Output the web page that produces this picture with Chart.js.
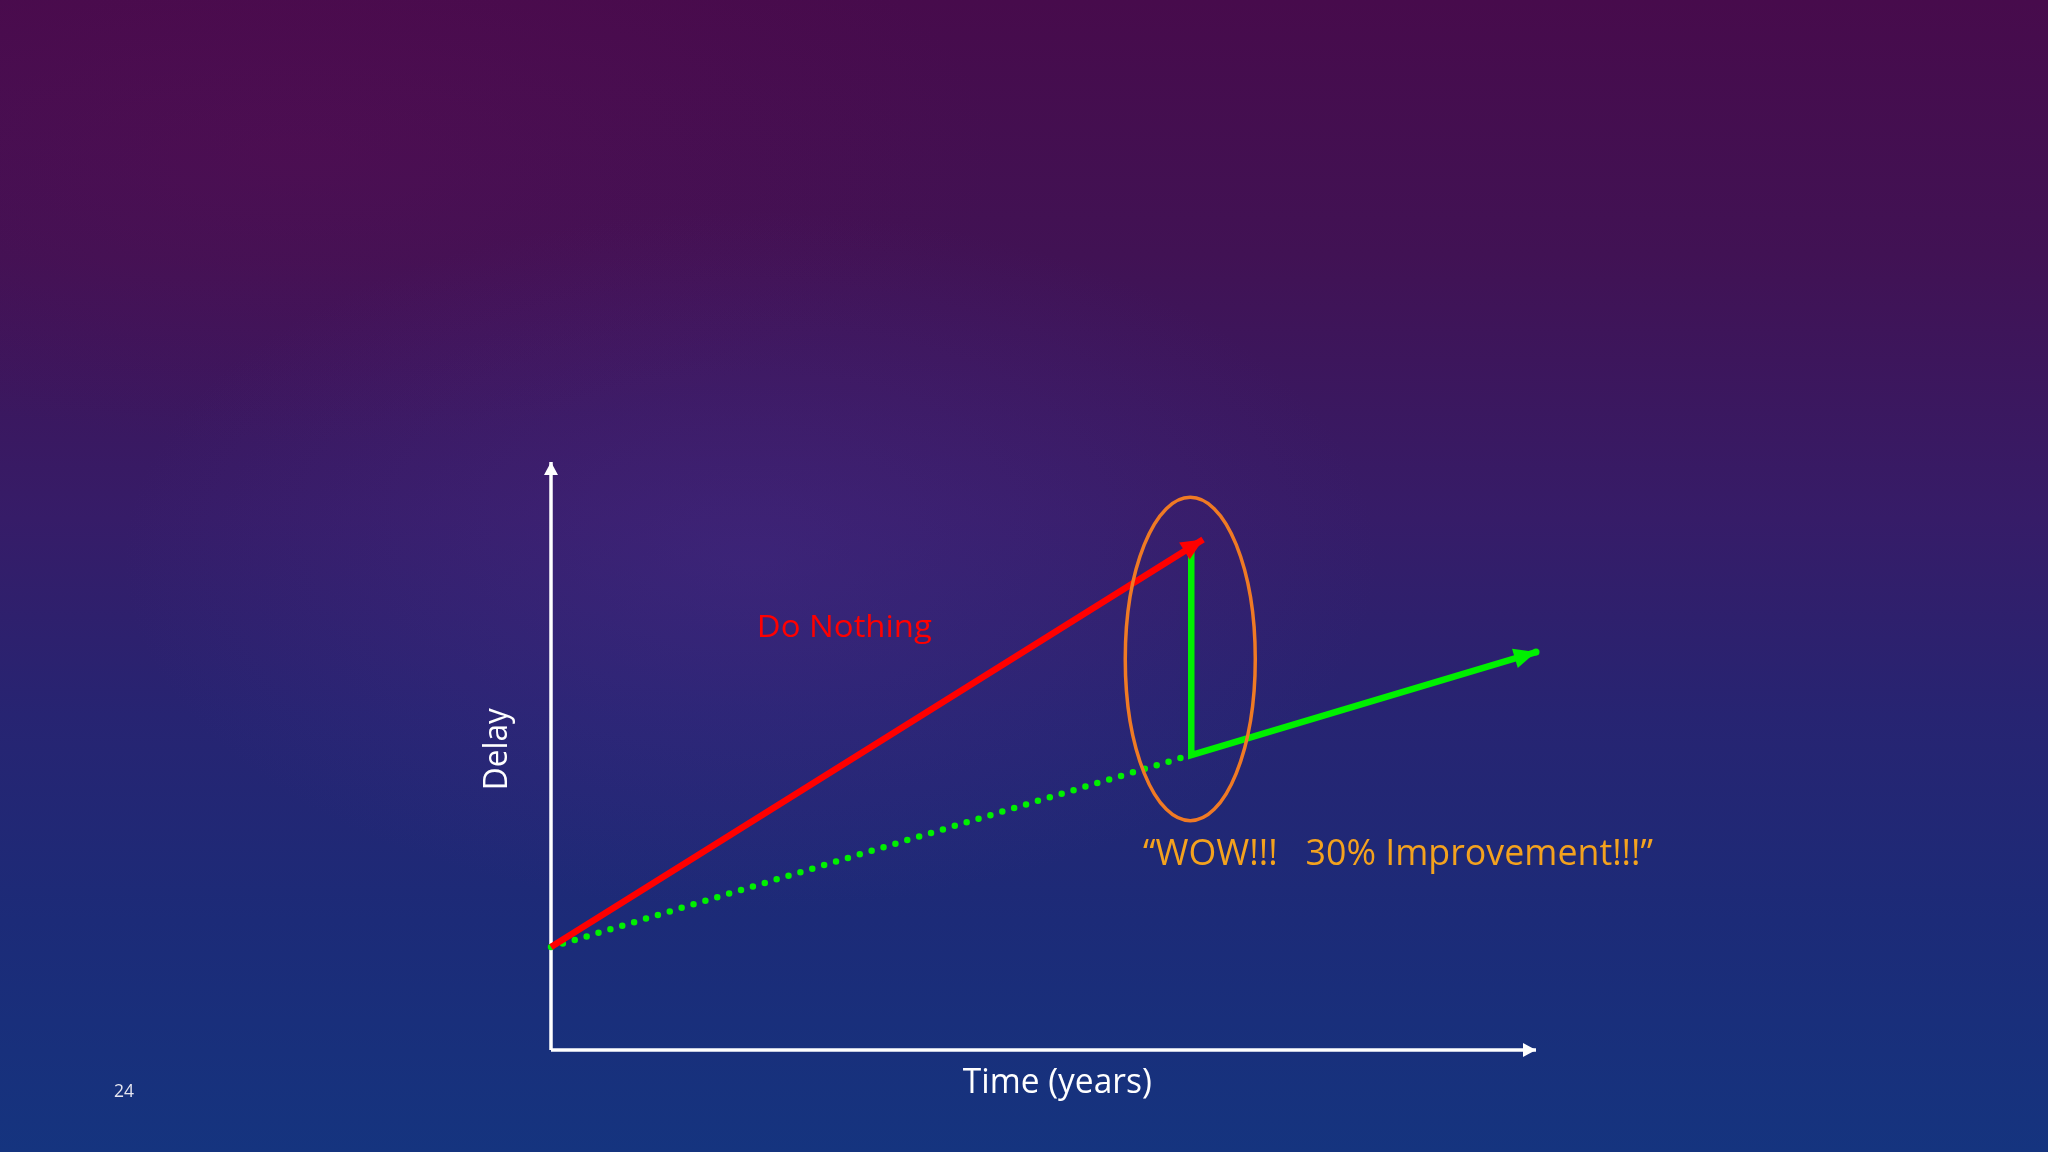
<!DOCTYPE html>
<html>
<head>
<meta charset="utf-8">
<title>Do Nothing vs Improvement</title>
<script src="https://cdn.jsdelivr.net/npm/chart.js@4.4.1/dist/chart.umd.min.js"></script>
<style>
  html, body { margin:0; padding:0; }
  body {
    width:2048px; height:1152px; overflow:hidden;
    background:
      radial-gradient(ellipse 900px 500px at 750px 560px, rgba(80,50,150,0.30), rgba(80,50,150,0) 70%),
      radial-gradient(ellipse 1000px 420px at 300px 150px, rgba(95,12,85,0.30), rgba(95,12,85,0) 70%),
      linear-gradient(180deg, #470b4c 0%, #411254 22%, #361c68 45%, #272472 62%, #1c2b78 80%, #15347f 100%);
  }
  #wrap { position:absolute; left:0; top:0; width:2048px; height:1152px; }
</style>
</head>
<body>
<div id="wrap"><canvas id="delayChart" width="2048" height="1152"></canvas></div>
<script>
/* data, in (years, delay) units */
const axisX = [0, 10];        // time axis, years
const axisY = [0, 6];         // delay axis
const doNothingX = [0, 6.62];
const doNothingY = [1.05, 5.21];
const trendX = [0, 6.46];
const trendY = [1.05, 3.0];
const improvedX = [6.5, 6.5, 10];
const improvedY = [5.12, 3.01, 4.06];

const RED = "#ff0000";
const GREEN = "#00f000";
const ORANGE = "#f07a24";
const WOW = "#f4a21e";

function pts(xs, ys){ return xs.map((x,i)=>({x:x, y:ys[i]})); }

/* text stretched to a given width (the slide font is narrower/wider) */
function fitText(ctx, text, x, y, width, align){
  const w = ctx.measureText(text).width;
  const s = width / w;
  ctx.save();
  ctx.translate(x, y);
  ctx.scale(s, 1);
  ctx.textAlign = align || "left";
  ctx.fillText(text, 0, 0);
  ctx.restore();
}

/* arrowheads, ellipse and text labels */
const sketchPlugin = {
  id:"sketch",
  afterDatasetsDraw: chart=>{
    const { ctx, scales:{ x, y } } = chart;
    const px = v=> x.getPixelForValue(v);
    const py = v=> y.getPixelForValue(v);

    function arrow(x0,y0,x1,y1,len,half,color){
      const a = Math.atan2(y1-y0, x1-x0);
      ctx.save();
      ctx.fillStyle = color;
      ctx.translate(x1,y1);
      ctx.rotate(a);
      ctx.beginPath();
      ctx.moveTo(0,0);
      ctx.lineTo(-len,-half);
      ctx.lineTo(-len,half);
      ctx.closePath();
      ctx.fill();
      ctx.restore();
    }
    // axes
    arrow(px(0),py(0),px(axisX[1]),py(0),13,7,"#ffffff");
    arrow(px(0),py(0),px(0),py(axisY[1]),13,7,"#ffffff");
    // do nothing
    const n = doNothingX.length-1;
    arrow(px(doNothingX[n-1]),py(doNothingY[n-1]),px(doNothingX[n]),py(doNothingY[n]),22,10,RED);
    // improved
    const m = improvedX.length-1;
    arrow(px(improvedX[m-1]),py(improvedY[m-1]),px(improvedX[m]),py(improvedY[m]),22,10,GREEN);
    ctx.save();
    ctx.fillStyle = GREEN;
    ctx.beginPath();
    ctx.arc(px(improvedX[m]),py(improvedY[m]),3.5,0,Math.PI*2);
    ctx.fill();
    ctx.restore();

    // ellipse around the "improvement"
    ctx.save();
    ctx.strokeStyle = ORANGE;
    ctx.lineWidth = 3.5;
    ctx.beginPath();
    const cx = px(6.49), cy = py(3.99);
    ctx.ellipse(cx, cy, px(6.49+0.66)-cx, cy-py(3.99+1.65), 0, 0, Math.PI*2);
    ctx.stroke();
    ctx.restore();

    // labels
    ctx.save();
    ctx.textBaseline = "alphabetic";
    ctx.font = "31px 'Open Sans'";
    ctx.fillStyle = RED;
    fitText(ctx, "Do Nothing", px(2.09), py(4.21), 175);

    ctx.font = "36px 'Open Sans'";
    ctx.fillStyle = WOW;
    fitText(ctx, "\u201CWOW!!!   30% Improvement!!!\u201D", px(6.01), py(1.89), 510);

    ctx.font = "35px 'Open Sans'";
    ctx.fillStyle = "#ffffff";
    fitText(ctx, "Time (years)", px(5.14), py(-0.44), 189, "center");

    ctx.translate(px(-0.45), py(3.07));
    ctx.rotate(-Math.PI/2);
    ctx.font = "33px 'Open Sans'";
    fitText(ctx, "Delay", 0, 0, 82, "center");
    ctx.restore();

    // slide number
    ctx.save();
    ctx.font = "19px 'Open Sans'";
    ctx.fillStyle = "#e6e6f0";
    ctx.textBaseline = "alphabetic";
    fitText(ctx, "24", 114, 1097, 20);
    ctx.restore();
  }
};

const ctx = document.getElementById("delayChart").getContext("2d");
const delayChart = new Chart(ctx, {
  type:"scatter",
  data:{
    datasets:[
      { label:"Do Nothing", data:pts(doNothingX, doNothingY), showLine:true,
        borderColor:RED, borderWidth:6.5, pointRadius:0, clip:false, order:1 },
      { label:"Improved", data:pts(improvedX, improvedY), showLine:true,
        borderColor:GREEN, borderWidth:6.5, pointRadius:0, clip:false, order:2,
        borderJoinStyle:"miter" },
      { label:"Trend", data:pts(trendX, trendY), showLine:true,
        borderColor:GREEN, borderWidth:6.5, borderDash:[0,12.4], borderCapStyle:"round",
        pointRadius:0, clip:false, order:3 },
      { label:"Time axis", data:pts(axisX, [0,0]), showLine:true,
        borderColor:"#ffffff", borderWidth:3.5, pointRadius:0, clip:false, order:4 },
      { label:"Delay axis", data:pts([0,0], axisY), showLine:true,
        borderColor:"#ffffff", borderWidth:3.5, pointRadius:0, clip:false, order:5 }
    ]
  },
  options:{
    responsive:false,
    animation:false,
    layout:{ padding:{ left:551, right:512, top:462, bottom:102 } },
    scales:{
      x:{ type:"linear", min:axisX[0], max:axisX[1], display:false },
      y:{ type:"linear", min:axisY[0], max:axisY[1], display:false }
    },
    plugins:{
      legend:{ display:false },
      tooltip:{ enabled:false }
    }
  },
  plugins:[sketchPlugin]
});
</script>
</body>
</html>
